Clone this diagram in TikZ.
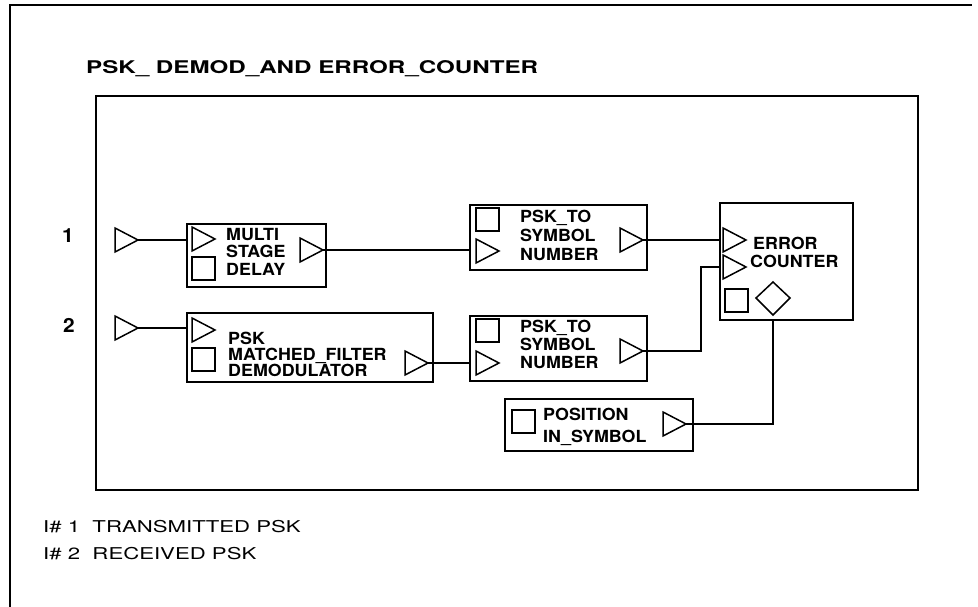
\documentclass[tikz,border=0pt]{standalone}
\usepackage{fontspec}
\setmainfont{TeX Gyre Heros}
\newfontfamily\notefont[FakeStretch=1.36]{TeX Gyre Heros}
\newfontfamily\titlefont[FakeStretch=1.38]{TeX Gyre Heros}
\newfontfamily\boxfont[FakeStretch=1.07]{TeX Gyre Heros}
\tikzset{
  frame/.style={line width=1.8pt},
  block/.style={draw, line width=1.9pt, inner sep=0pt, anchor=north west},
  wire/.style={line width=1.3pt},
  portline/.style={line width=1.5pt, line join=miter},
  lbl/.style={font=\boxfont\bfseries\fontsize{16.7}{#1}\selectfont, align=left, inner sep=0pt, anchor=north west},
  lbl/.default=17.5,
  port/.pic={\draw[portline] (0,-12) -- (23,0) -- (0,12) -- cycle;
             \coordinate (-tip) at (23,0);},
  sqport/.pic={\draw[portline] (0,0) rectangle (23,23);}
}
\begin{document}
\begin{tikzpicture}[x=1pt,y=-1pt]
    \useasboundingbox (0,0) rectangle (978,607);
    % Frames
    \draw [frame] (10,607) -- (10,5) -- (972,5);
    \draw [frame] (96,96) rectangle (918,490);
    \node [lbl, font=\titlefont\bfseries\fontsize{17.5}{20}\selectfont] (title) at (86,60) {PSK\_ DEMOD\_AND ERROR\_COUNTER};
    % Inputs
    \node [lbl, font=\boxfont\bfseries\fontsize{19.5}{22}\selectfont, anchor=center] (n1) at (68,236) {1};
    \node [lbl, font=\boxfont\bfseries\fontsize{19.5}{22}\selectfont, anchor=center] (n2) at (69,325) {2};
    \pic (src1) at (115,240) {port};
    \pic (src2) at (115,328) {port};
    % Blocks
    \node [block, minimum width=139pt, minimum height=63pt] (delay) at (186,223) {};
    \node [block, minimum width=246pt, minimum height=69pt] (demod) at (186,312) {};
    \node [block, minimum width=177pt, minimum height=65pt] (sym1) at (469,204) {};
    \node [block, minimum width=177pt, minimum height=65pt] (sym2) at (469,315) {};
    \node [block, minimum width=133pt, minimum height=117pt] (err) at (719,202) {};
    \node [block, minimum width=188pt, minimum height=52pt] (pos) at (504,398) {};
    % Ports
    \pic (delayin) at (192,239) {port};
    \pic at (192,257) {sqport};
    \pic (delayout) at (300,250) {port};
    \pic (demodin) at (192,330) {port};
    \pic at (192,348) {sqport};
    \pic (demodout) at (405,363) {port};
    \pic at (476,208) {sqport};
    \pic (sym1in) at (476,251) {port};
    \pic (sym1out) at (620,240) {port};
    \pic at (476,319) {sqport};
    \pic (sym2in) at (476,363) {port};
    \pic (sym2out) at (620,351) {port};
    \pic (errin1) at (723,240) {port};
    \pic (errin2) at (723,267) {port};
    \pic at (725,289) {sqport};
    \draw [portline] (756,298) -- (773,282) -- (790,298) -- (773,315) -- cycle;
    \coordinate (errbot) at (773,319);
    \pic at (512,410) {sqport};
    \pic (posout) at (663,424) {port};
    % Block texts
    \node [lbl] (delaytxt) at (226,228) {MULTI\\STAGE\\DELAY};
    \node [lbl=16] (demodtxt) at (228,332) {PSK\\MATCHED\_FILTER\\DEMODULATOR};
    \node [lbl=19] (sym1txt) at (520,210) {PSK\_TO\\SYMBOL\\NUMBER};
    \node [lbl=18] (sym2txt) at (520,320) {PSK\_TO\\SYMBOL\\NUMBER};
    \node [lbl=18] (errtxt) at (750,237) {\kern3pt ERROR\\COUNTER};
    \node [lbl=21.5] (postxt) at (543,408) {POSITION\\IN\_SYMBOL};
    % Wires
    \draw [wire] (src1-tip) -- (src1-tip -| delay.west);
    \draw [wire] (src2-tip) -- (src2-tip -| demod.west);
    \draw [wire] (delayout-tip) -- (delayout-tip -| sym1.west);
    \draw [wire] (demodout-tip) -- (demodout-tip -| sym2.west);
    \draw [wire] (sym1out-tip) -- (sym1out-tip -| err.west);
    \draw [wire] (sym2out-tip) -- (701,351) |- (errin2-tip -| err.west);
    \draw [wire] (errbot) |- (posout-tip);
    % Footer
    \node [lbl, font=\notefont\fontsize{16.3}{20}\selectfont] (note1) at (43,520) {I\# 1\ \ TRANSMITTED PSK};
    \node [lbl, font=\notefont\fontsize{16.3}{20}\selectfont] (note2) at (43,547) {I\# 2\ \ RECEIVED PSK};
\end{tikzpicture}
\end{document}
